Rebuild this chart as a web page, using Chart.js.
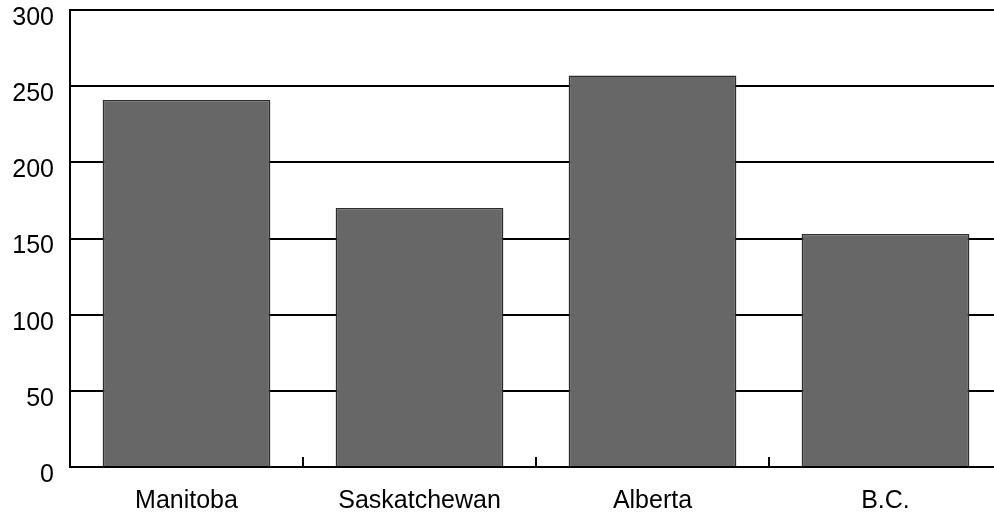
<!DOCTYPE html>
<html>
<head>
<meta charset="utf-8">
<script src="https://cdn.jsdelivr.net/npm/chart.js@4"></script>
<style>
  html, body { margin: 0; padding: 0; overflow: hidden; background: #fff; }
  #wrap { width: 1003px; height: 512px; }
</style>
</head>
<body>
<div id="wrap"><canvas id="provinceChart"></canvas></div>
<script>
const provinces = ['Manitoba', 'Saskatchewan', 'Alberta', 'B.C.'];
const values = [241, 170, 257, 153];
const yTicks = [0, 50, 100, 150, 200, 250, 300];

const ctx = document.getElementById('provinceChart').getContext('2d');

// short tick marks pointing up from the x axis, between categories
const innerTicks = {
  id: 'innerTicks',
  afterDatasetsDraw(chart) {
    const x = chart.scales.x;
    const c = chart.ctx;
    c.save();
    c.strokeStyle = '#000';
    c.lineWidth = 2;
    for (let i = 1; i < provinces.length; i++) {
      const px = (x.getPixelForValue(i - 1) + x.getPixelForValue(i)) / 2;
      c.beginPath();
      c.moveTo(px, x.top);
      c.lineTo(px, x.top - 10);
      c.stroke();
    }
    c.restore();
  }
};

new Chart(ctx, {
  type: 'bar',
  data: {
    labels: provinces,
    datasets: [{
      data: values,
      backgroundColor: '#676767',
      borderColor: '#2e2e2e',
      borderWidth: 1.5,
      barPercentage: 0.8,
      categoryPercentage: 0.9
    }]
  },
  options: {
    responsive: true,
    maintainAspectRatio: false,
    animation: false,
    layout: { padding: { top: 10, right: 1, bottom: 0, left: 0 } },
    plugins: { legend: { display: false }, tooltip: { enabled: false } },
    scales: {
      x: {
        grid: { display: false },
        border: { color: '#000', width: 2 },
        ticks: { color: '#000', padding: 11, font: { family: 'Liberation Sans', size: 25 } },
        afterFit(s) { s.height = 45; s.paddingLeft = 0; s.paddingRight = 0; }
      },
      y: {
        min: 0,
        max: 300,
        afterBuildTicks(s) { s.ticks = yTicks.map(v => ({ value: v })); },
        grid: { color: '#000', lineWidth: 2, drawTicks: false },
        border: { color: '#000', width: 2 },
        ticks: { color: '#000', padding: 16, labelOffset: 8, font: { family: 'Liberation Sans', size: 25 } },
        afterFit(s) { s.width = 70; s.paddingTop = 0; s.paddingBottom = 0; }
      }
    }
  },
  plugins: [innerTicks]
});
</script>
</body>
</html>
